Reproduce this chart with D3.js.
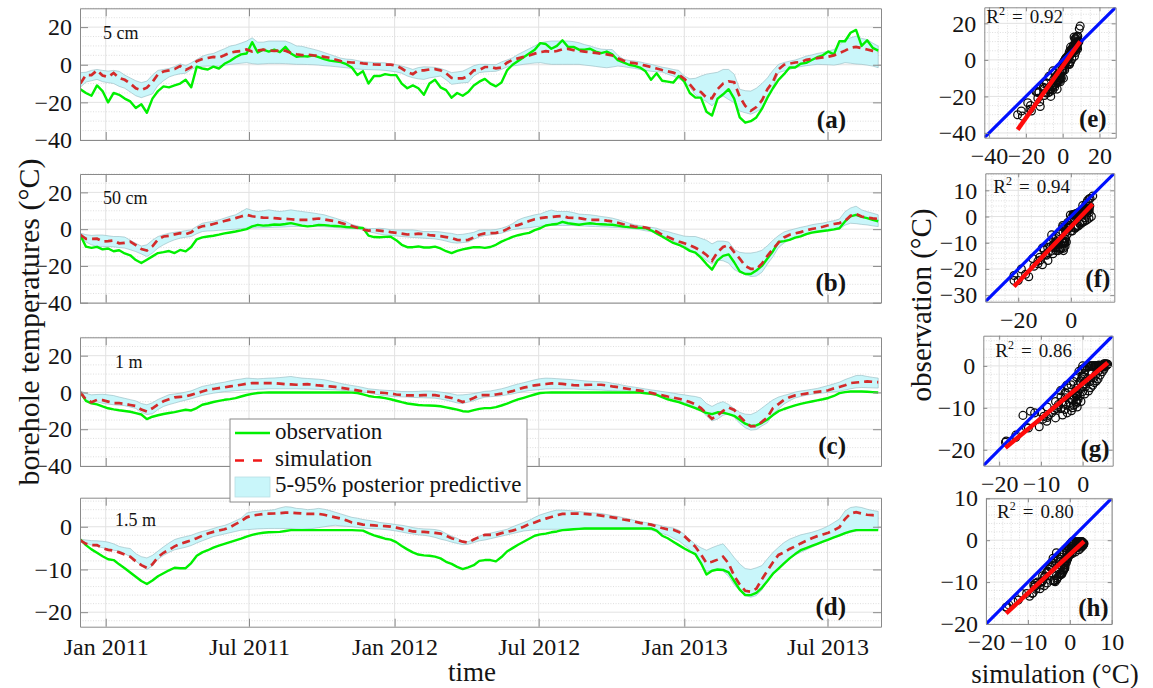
<!DOCTYPE html>
<html>
<head>
<meta charset="utf-8">
<script src="https://cdn.jsdelivr.net/npm/d3@7"></script>
<style>
  body { margin: 0; background: #fff; }
  svg text { font-family: "Liberation Serif", "Times New Roman", serif; fill: #141414; }
</style>
</head>
<body>
<svg id="fig" width="1153" height="688"></svg>
<script>
// ---- borehole temperature records, one value every 7 days from startDate ----
const startDate = "2010-11-30";
const stepDays = 7;
const depthLabels = ["5 cm", "50 cm", "1 m", "1.5 m"];
const panelTags = ["(a)", "(b)", "(c)", "(d)"];
const scatterTags = ["(e)", "(f)", "(g)", "(h)"];
const rSquared = ["0.92", "0.94", "0.86", "0.80"];
const dateTicks = ["2011-01-01", "2011-07-01", "2012-01-01", "2012-07-01", "2013-01-01", "2013-07-01"];
const yTicksShallow = [-40, -20, 0, 20];
const yTicksDeep = [-20, -10, 0];
const legendLabels = ["observation", "simulation", "5-95% posterior predictive"];

// 5 cm
const obs5cm = [-13,-15,-16.5,-11,-14,-20,-15,-16,-18,-19.5,
  -23,-21,-25.5,-18,-14,-11.5,-12,-11,-10,-8,
  -12,-1,-2,-2.5,-1,-2,0.5,2,4,5.5,
  6,12,6.5,8,7,8,6.7,9.5,6,4.2,
  4.6,4.4,5,4,3,2.2,1.8,1.4,0.3,-1.5,
  -5.5,-3.4,-10,-6,-6,-5,-5.5,-5.5,-10,-12.5,
  -11,-12.5,-16,-10,-8,-12,-13.5,-17.5,-15,-16.5,
  -14.5,-11,-9,-7.5,-10,-11.5,-9.5,-3,0,2,
  4,6,8,11.5,11,8.5,10,13,9.5,9.5,
  8,8,8.5,7,6.2,7,5.5,2.4,1.2,0,
  -0.6,-1.5,-3.5,-8,-4.5,-8.5,-9,-9.5,-6,-9,
  -15,-17.5,-17.5,-25,-27,-18,-15.7,-13,-18,-28,
  -30.8,-30,-28,-23.5,-17.5,-12.5,-8,-5,-1.5,-1.5,
  0.5,1,2.5,4,5,7,5.5,12.5,12.5,17,
  18.5,10,13,9,7.5];
const sim5cm = [-10,-5.5,-5.5,-3,-5.7,-6.5,-4.4,-7,-8,-10,
  -12.5,-13.5,-12.2,-9.2,-5,-3.6,-3,-2.3,-0.7,-2.8,
  -1.3,1.9,3,3.6,4.2,3.8,5,6.4,7,7.3,
  8.1,7,7.5,8,7.6,7.3,7.6,7.5,6.3,5.6,
  5.1,5.4,5,4.7,4.2,3.7,2.8,2,1.4,1.2,
  1.1,0.7,0.4,0.2,0.1,0,0.1,-0.5,-2,-3.9,
  -5,-3,-3,-2.5,-2.3,-3,-4.5,-7,-7.3,-7.2,
  -6,-3,-2.8,-1.2,-1.2,-1.9,-1.5,1.1,2.6,3.4,
  4.2,4.9,5.9,6.7,7.2,6.8,7.3,8.2,8.4,7.8,
  7.4,7,6.6,6.3,5.9,5.5,4.9,3.5,2.2,1.2,
  0.9,0.2,-0.5,-1.2,-2,-2.8,-3.5,-4.2,-5.3,-7.5,
  -10.5,-14,-14.5,-17.5,-17.8,-13,-10,-8.8,-9.3,-17,
  -21.9,-24.5,-22.5,-19,-13,-9,-2.5,0,0.6,1.2,
  1.4,2.6,3.1,3.5,3.9,4.3,5,6.2,7.5,9,
  9.5,8.8,8.1,7.4,6.8];
const lo5cm = [-12,-9.2,-8.5,-7.8,-9,-9.5,-10,-11.5,-12.5,-14.5,
  -16.5,-17.5,-16.5,-15.5,-11,-8.5,-6.5,-5.5,-4.8,-4.5,
  -2.5,-1.2,-0.8,-0.7,-0.7,-0.7,-0.3,0.2,0.5,0.8,
  1.1,0.6,0.3,0.5,0.7,0.7,0.7,0.6,0.4,0.2,
  0.2,0.1,0,-0.2,-0.5,-0.7,-1,-1.3,-1.6,-2,
  -2.3,-2.5,-2.6,-2.7,-2.8,-3,-3.4,-3.8,-4.5,-6,
  -6.9,-7.5,-7.8,-7,-6.5,-6,-8,-10.4,-10,-9.6,
  -9.4,-6,-4.2,-3.8,-3.6,-3.5,-2.5,-1.2,-0.7,-0.2,
  0.2,0.6,0.9,1.1,0.6,0.2,0.2,0.2,0.2,0.2,
  0.2,-0.2,-0.5,-0.9,-1.3,-1.6,-1.2,-0.7,-1,-1.5,
  -1.9,-2.5,-3,-3.5,-3.7,-3.9,-5,-6,-7.5,-8.7,
  -12,-16,-18,-19.5,-21.9,-18.4,-16.6,-18.5,-20.2,-24.6,
  -25.5,-26.3,-25,-23,-18,-12,-4.2,-3.3,-2.5,-1.5,
  -1,-0.5,-0.1,0.2,0.1,0,-0.2,0.3,1.1,0.8,
  0.4,0.2,-0.2,-0.7,-1.6];
const hi5cm = [-4.2,-4,-3,-2.5,-3,-3.4,-3,-3.5,-5.5,-7,
  -8.5,-9.5,-8.7,-5.5,-3,-2.5,-2,-1,0.5,-0.5,
  1,2.8,4.5,5.5,6,7.3,8.5,9.9,10.5,11.5,
  12.6,14.3,12,12,12.6,12.6,12.6,12.6,11.5,10,
  9.8,9,8.3,7.5,6.5,5.5,4.5,3.5,3,2.8,
  2.2,1.6,1.4,1.2,1.1,1,0.3,0,-0.7,-1.5,
  -2.5,-1.5,-1.1,-1.2,-1.4,-2,-3,-4.2,-3.8,-3.4,
  -2,-0.5,0.2,0.2,0.1,0,1.5,2.5,3.7,5.5,
  7,8.5,10,11.7,12.2,12.6,12.6,12.6,12.6,12.3,
  11.7,10.7,10,9,8.3,8.1,8.1,5,3,2.3,
  2,1.5,0.8,0.2,-0.5,-1.3,-1.8,-2.5,-3,-6,
  -7.5,-7.2,-6,-5,-4.5,-4,-2.5,-2.5,-5,-13,
  -13.8,-14,-12.5,-10,-7,-3,0.2,1.2,1.9,2.5,
  3.5,4.6,5.2,6,6.5,7.3,8.1,10.5,13.4,14.3,
  15.2,14,13.4,11.5,9.9];

// 50 cm
const obs50cm = [-3.4,-9.5,-10.2,-9.6,-11,-10.5,-12,-11.5,-13.2,-14.2,
  -16.8,-18.4,-16.6,-14.8,-13,-12.5,-11.9,-13,-11.3,-12.1,
  -9.7,-5.5,-4.5,-4,-3.6,-3,-2.3,-1.8,-1.3,-0.7,
  0,1.5,2.3,1.9,2.1,2.5,2.4,2.8,3.3,2.6,
  1.9,1.5,1.8,2.3,2.2,1.9,1.7,1.5,1.2,1,
  0.8,0.6,-3.5,-4.3,-4.4,-4.2,-4.1,-6,-8.5,-9.8,
  -9.8,-9.4,-10,-10,-9.5,-10.5,-12,-13,-11.8,-11,
  -10.4,-9.8,-9.8,-10.2,-9.7,-8.5,-6.8,-5.5,-4.2,-3.3,
  -2.6,-2,-0.5,0.5,2,2.5,2.8,4,3.2,2.8,
  2.4,2.9,3.2,2.9,2.7,2.5,2.4,1.9,1.4,1.1,
  0.9,0.7,0.5,-0.6,-2.3,-4,-5.8,-7.5,-8.5,-10,
  -11.8,-12.8,-15.5,-19,-22,-17,-14.5,-13.7,-18,-23,
  -24.4,-24.4,-22.5,-20,-16,-12,-7,-6.5,-5.8,-4.6,
  -3.9,-2.7,-1.9,-1.4,-1,-0.6,-0.1,0.5,4.2,6.9,
  7.8,6.7,6,5.1,4.3];
const sim50cm = [-3.1,-5.3,-5.3,-5.2,-6.7,-6.5,-6.2,-7.7,-7.5,-6.8,
  -8.7,-10.8,-11.6,-9.3,-5.6,-4,-3.6,-2.8,-2.2,-2.8,
  -1.7,0.5,1.6,2,2.8,3.6,4.4,5.2,6,6.9,
  7.8,7,6.6,6.3,6.2,6,5.7,5.6,5.4,5.1,
  5.1,5.1,5.5,5.8,5.3,4.8,4.3,3.4,2.6,1.7,
  0.8,-0.2,-0.8,-0.5,-0.8,-1.1,-1.6,-2,-2.4,-2.9,
  -2.8,-2.4,-2.7,-3.2,-3.5,-3.8,-4.3,-4.8,-5.8,-6.1,
  -5.8,-4.5,-3,-2.3,-2.2,-2,-1.4,0,1.6,2.2,
  3.3,4.4,5.4,6,6.4,6.6,7,7.2,6.3,6.1,
  6,5.5,5.1,5.1,5.1,4.6,4.2,3.5,2.7,2,
  1.4,1.2,0.9,0.1,-1.2,-3,-4.2,-5.5,-6.7,-7.7,
  -8.8,-10.1,-11.8,-14,-17.2,-12.5,-9.7,-8.6,-12.5,-16,
  -20,-21.6,-21.6,-18.8,-14.5,-10.8,-7.3,-4.5,-3,-2.3,
  -1.6,-0.7,0.1,0.6,1.3,2.1,2.8,3.3,4.5,7.3,
  8.3,6.9,6.3,5.9,5.6];
const lo50cm = [-4,-7,-8.5,-9.4,-9.4,-9.4,-9.6,-10,-10.3,-11.2,
  -12.2,-13.5,-14.9,-13,-10.3,-8.5,-7,-5.8,-4.9,-4.4,
  -4,-2.5,-1.3,-1,-0.9,-0.6,-0.4,-0.2,0,0.3,
  0.5,0.6,0.7,0.8,0.9,1,1.1,1.2,1.4,1.4,
  1.4,1.4,1.4,1.4,1.3,1.1,0.9,0.7,0.5,0.3,
  0.2,-0.5,-1.4,-2,-2.7,-3.2,-3.4,-3.7,-4,-4.3,
  -4.5,-4.7,-4.9,-5.1,-5.3,-5.8,-6.5,-7.3,-7.6,-7.3,
  -7,-5.5,-4.2,-3.5,-3.1,-2.7,-2.2,-1.2,-0.3,0.2,
  0.5,0.8,1.2,1.6,2,2,2,2,2,2,
  1.8,1.7,1.5,1.4,1.3,1.2,1,0.9,0.7,0.5,
  0.2,-0.3,-0.9,-1.3,-2.5,-3.5,-4.5,-6.5,-8,-9,
  -11,-13,-14.5,-17,-19,-16.8,-17.2,-18.5,-22,-23.5,
  -24.5,-25.8,-25.5,-23.5,-19,-15,-10,-7.5,-5.8,-4.8,
  -4,-3.2,-2.2,-1.5,-0.9,-0.6,-0.4,-0.1,2.2,3.2,
  3,2.6,2.3,1.8,1.4];
const hi50cm = [-2.2,-3,-3.4,-3.2,-3.2,-3.6,-4,-4,-4.3,-6,
  -7.7,-9.2,-8.5,-6,-4,-3,-2.2,-1.7,-1.3,-0.8,
  -0.4,1.5,3.2,3.8,4.2,5,6,7,7.8,9.5,
  11.2,10.2,9.6,10,10.5,10,9.6,10,10.5,10,
  9.6,9.2,8.8,8.3,7.8,6.9,6,5,4,2.5,
  1.8,0.8,0.3,0.3,0.5,0.2,-0.3,-0.4,-0.4,-0.4,
  -0.4,-0.8,-1.3,-1.3,-1.3,-1.5,-2,-2.3,-3,-2.8,
  -2.3,-1.7,-0.5,-0.4,-0.4,-0.2,0.5,1.5,3,5,
  6.2,7,7.8,8.3,9.5,10.4,9.6,9.6,9.6,9,
  8.2,8,7.8,7.4,6.9,6.5,6,5.2,4.2,3.3,
  2.4,1.9,1.4,1,0.5,-0.7,-1.3,-2.2,-3,-3.8,
  -4,-4,-5,-6,-8,-6.5,-6.5,-7,-11,-12.6,
  -13,-13,-12.5,-11.5,-9,-6,-3.5,-1.5,-0.6,0.2,
  1,1.6,2.4,2.9,3.3,4,4.6,5.5,9.5,11.5,
  12.5,10.5,9.5,8.7,7.8];

// 1 m
const obs1m = [0,-4.6,-5.9,-6.5,-7.6,-8.6,-9.2,-9.7,-10.1,-10.5,
  -11.2,-12,-14.5,-13.2,-12.4,-11.7,-11.2,-10.7,-10,-9.4,
  -9.8,-8.5,-6.7,-6,-5.2,-4.6,-4,-3.6,-3.1,-2.2,
  -1.4,-0.8,-0.3,-0.1,0,0,0,0,0,0,
  0,0,0,0,0,0,0,0,0,-0.1,
  -0.3,-1,-1.9,-2.4,-2.6,-3.1,-3.7,-4.5,-5.3,-6,
  -6.4,-6.8,-7,-7.1,-7.2,-7.5,-8.1,-8.7,-9.3,-10.2,
  -10.4,-9.6,-8.9,-8.5,-8.5,-8,-7.1,-6.1,-4.9,-3.8,
  -2.9,-2,-1.1,-0.3,-0.1,0,0,0,0,0,
  0,0,0,0,0,0,0,0,0,0,
  0,-0.1,-0.4,-0.8,-1.3,-2.6,-3.7,-4.5,-5.3,-6.4,
  -7.4,-8.5,-9.8,-11.2,-11.8,-10.8,-11,-11.8,-12.7,-14.8,
  -17,-18.2,-17.9,-16.5,-14.7,-12.3,-10.2,-9,-8,-7,
  -6.2,-5.5,-4.9,-4.3,-3.7,-3,-1.9,-0.4,0.2,0.5,
  0.5,0.5,0.4,0.2,0];
const sim1m = [0,-3.8,-5.3,-4,-4.2,-5,-5.8,-5.8,-6.2,-6.8,
  -7.4,-9.3,-10.4,-8.6,-6.5,-4.8,-3.7,-2.7,-2.4,-2.2,
  -1.3,-0.4,0.5,1.4,1.9,2.4,2.8,3.3,3.7,4.2,
  4.7,5.1,5.1,5.1,5.1,5.1,4.8,4.5,4.4,4.2,
  4.4,4.5,4.2,3.8,3.6,3.3,3,2.5,2.1,1.6,
  1.1,0.6,0.4,0.1,-0.1,-0.3,-0.6,-1.1,-1.4,-1.6,
  -1.6,-1.6,-1.5,-1.4,-1.5,-2,-2.4,-3,-4,-5.2,
  -4.2,-3,-1.5,-1.4,-1.5,-1.1,-0.6,0,0.7,1.7,
  2.6,3.2,3.9,4.3,4.6,4.9,4.9,4.7,4.3,4,
  3.9,4.1,4.2,4.2,4.2,3.8,3.3,2.9,2.4,1.9,
  1.4,1,0.5,-0.2,-0.9,-1.5,-2.2,-2.8,-3.4,-4.2,
  -5.2,-6.5,-8.5,-11.5,-14.3,-12.5,-10,-8.2,-9.5,-13,
  -16,-18.5,-18.3,-16,-13.5,-8.5,-6.3,-4,-2.6,-1.6,
  -1.1,-0.6,-0.1,0.3,0.7,1.2,2.2,3,3.9,5.1,
  5.4,5.7,6,5.8,5.6];
const lo1m = [-0.4,-4.5,-5.8,-5.1,-5.9,-6.3,-6.7,-6.9,-7.2,-7.9,
  -8.7,-10.8,-12,-11.6,-9.3,-7.6,-6.6,-5.8,-4.9,-4.2,
  -3.4,-2.5,-1.6,-1,-0.4,0,0.5,0.7,1,1.2,
  1.4,1.5,1.7,1.8,2,2,2,2,2,2,
  1.9,1.9,1.8,1.7,1.6,1.5,1.4,1.2,1,0.8,
  0.5,0.2,-0.2,-0.8,-1.4,-1.8,-2.1,-2.3,-2.4,-2.5,
  -2.7,-2.8,-2.9,-3,-3.1,-3.6,-4.2,-4.9,-5.7,-6,
  -5.2,-4.5,-3.4,-2.6,-2.3,-2.1,-1.8,-1.3,-0.8,-0.1,
  0.5,1,1.3,1.6,1.9,2,2,2,2,2,
  1.8,1.7,1.5,1.4,1.3,1.1,1,0.9,0.8,0.7,
  0.6,0.5,0,-0.5,-1.2,-1.7,-2.5,-3.4,-4.5,-5.6,
  -6.7,-8,-9.5,-12.8,-15.5,-14.5,-12.4,-11.5,-13.5,-16.8,
  -19.2,-20.5,-20.2,-18.2,-16.5,-11.5,-9,-6.3,-4.5,-3,
  -2.2,-1.5,-1,-0.6,-0.3,0.1,0.4,0.7,1.3,2,
  2.5,2.7,2.6,2.5,2.4];
const hi1m = [0.9,-0.5,-1.3,-1.1,-1,-1.3,-1.7,-2.5,-3.2,-3.9,
  -4.6,-6,-6.7,-5.6,-3.8,-2.5,-1.2,-0.8,-0.4,0.2,
  0.9,2.1,3.3,3.9,4.5,5.1,5.6,6.3,6.9,7.3,
  7.8,7.6,7.4,7.6,7.8,7.9,8.1,8.4,8.7,8.2,
  7.8,7.6,7.4,7.2,6.9,6.3,5.6,4.9,4.3,3.8,
  3.3,2.7,2,1.7,1.4,1.2,1,0.8,0.5,0.5,
  0.5,0.6,0.8,0.8,0.6,0.2,-0.2,-0.7,-1.4,-1.3,
  -1,-0.6,0,0.6,0.8,1.4,2,2.8,3.8,4.6,
  5.3,6.1,6.9,7.5,7.8,7.7,7.5,7.3,7.1,6.9,
  6.6,6.3,6.1,6,5.8,5.6,5,4.5,3.9,3.3,
  2.9,2.4,1.9,1.4,1,0.5,0.1,-0.4,-0.9,-1.3,
  -1.8,-2.2,-3,-6,-7.6,-6,-5,-6.5,-8.8,-10.8,
  -11.8,-12,-10.7,-8.5,-6.2,-4,-2.5,-1.6,-0.8,0.2,
  0.8,1.2,1.7,2.2,3,3.8,4.7,5.6,7,8.1,
  9.2,9.3,8.7,8.2,7.8];

// 1.5 m
const obs15m = [-3,-4.3,-5.3,-6.1,-6.9,-7.6,-7.8,-8.8,-9.7,-10.7,
  -11.7,-12.7,-13.4,-12.6,-11.6,-10.9,-10.2,-9.6,-9.7,-9.7,
  -8.5,-6.8,-6,-5.5,-4.9,-4.4,-4,-3.6,-3.2,-2.8,
  -2.3,-1.9,-1.6,-1.4,-1.3,-1.25,-1.2,-1,-0.8,-0.8,
  -0.8,-0.8,-0.8,-0.8,-0.8,-0.8,-0.8,-0.8,-0.8,-0.8,
  -0.85,-0.9,-1.5,-2,-2.4,-2.8,-3,-3.6,-4.5,-5.3,
  -6,-6.5,-6.7,-6.8,-7,-7.4,-8.2,-8.7,-9.4,-9.9,
  -9.5,-9,-8,-7.8,-7.8,-8.1,-7.1,-5.8,-5,-4.2,
  -3.5,-2.8,-2.1,-1.8,-1.6,-1.3,-1.1,-0.8,-0.7,-0.6,
  -0.5,-0.4,-0.4,-0.4,-0.4,-0.4,-0.4,-0.4,-0.4,-0.4,
  -0.4,-0.4,-0.4,-0.4,-0.9,-2.1,-2.7,-3.5,-4.3,-5.1,
  -5.8,-6.4,-8.5,-11.2,-10.3,-10,-10.1,-10.7,-12.7,-14.7,
  -16,-16,-15.5,-14.3,-12.7,-11,-9.8,-8.6,-7.4,-6.4,
  -5.5,-5,-4.5,-4,-3.5,-3,-2.5,-2,-1.5,-1.1,
  -0.8,-0.8,-0.8,-0.8,-0.8];
const sim15m = [-3.2,-4,-4.3,-4.3,-5,-5.4,-5.6,-6,-6.5,-7,
  -8.1,-9,-9.6,-8.8,-7.1,-6.1,-5.4,-4.6,-4,-3.6,
  -3.2,-2.7,-2.1,-1.6,-1.2,-0.9,-0.6,-0.1,0.6,1.3,
  2.2,2.6,2.8,3,3.05,3.1,3.2,3.3,3.3,3.2,
  3.1,3,3,3,2.8,2.5,2.2,1.9,1.5,1,
  0.8,0.5,0.4,0.3,0.2,0.15,0.05,-0.2,-0.5,-0.8,
  -1.1,-1.2,-1.2,-1.3,-1.45,-1.6,-2.1,-2.7,-3.1,-3.5,
  -3.7,-3,-2.4,-1.9,-1.9,-1.9,-1.5,-1.2,-0.9,-0.5,
  0,0.6,1,1.5,1.9,2.3,2.7,3,3.05,3.1,
  3.05,3,2.9,2.8,2.6,2.4,2.2,2,1.7,1.5,
  1.2,0.9,0.7,0.5,0.1,-0.3,-0.6,-0.7,-1.2,-2.2,
  -3.4,-4.7,-6.5,-8.5,-8.2,-7.7,-7,-8.6,-11.5,-13.5,
  -15,-15.2,-14.5,-12.3,-10.3,-8.3,-6.6,-6,-5.2,-4.6,
  -3.9,-3.3,-2.7,-2.2,-1.8,-1.4,-0.8,-0.1,1.8,3.1,
  3.4,3.1,2.8,2.7,2.6];
const lo15m = [-3.4,-3.8,-4.3,-4.6,-4.9,-5.2,-5.5,-5.7,-6.3,-7,
  -8,-9.1,-10,-9.2,-7.6,-6.7,-6,-5.4,-5.1,-4.8,
  -4.4,-3.8,-3.3,-2.8,-2.3,-2,-1.7,-1.4,-1.1,-0.8,
  -0.7,-0.6,-0.5,-0.45,-0.4,-0.4,-0.4,-0.4,-0.4,-0.55,
  -0.6,-0.5,-0.4,-0.2,0,0.2,0.35,0.2,0.1,0,
  -0.15,-0.3,-0.4,-0.5,-0.55,-0.65,-0.8,-1,-1.25,-1.5,
  -1.7,-1.9,-2,-2.2,-2.5,-2.9,-3.2,-3.6,-3.9,-4.2,
  -4.1,-3.7,-3.3,-3.1,-2.8,-2.5,-2.2,-1.9,-1.6,-1.3,
  -1,-0.85,-0.7,-0.6,-0.6,-0.6,-0.6,-0.6,-0.6,-0.6,
  -0.6,-0.6,-0.6,-0.6,-0.6,-0.6,-0.6,-0.6,-0.6,-0.6,
  -0.6,-0.6,-0.6,-0.75,-1.2,-1.6,-2,-2.7,-3.3,-4.3,
  -5.4,-6.8,-8.8,-10.4,-10.3,-10.2,-10.4,-11.6,-13.6,-15,
  -16.1,-16.5,-16.1,-14.8,-12.7,-11.2,-10.1,-8.6,-7.5,-6.6,
  -6,-5.4,-4.8,-4.2,-3.6,-3.1,-2.6,-2.2,-1.7,-1.3,
  -1,-0.75,-0.65,-0.6,-0.6];
const hi15m = [-2.9,-3.1,-3.25,-3.3,-3.4,-3.6,-4,-4.6,-4.9,-5.1,
  -6.3,-7,-7.3,-6.7,-5.7,-4.7,-3.8,-3,-2.6,-2.3,
  -2,-1.5,-1.1,-0.8,-0.4,0,0.3,0.8,1.4,2,
  3.2,3.5,3.6,3.75,3.85,4,4.4,4.7,4.6,4.3,
  4.2,4,4.1,4.3,4.1,3.8,3.4,3,2.6,2.2,
  2,1.7,1.5,1.3,1,0.85,0.7,0.5,0.35,0.1,
  -0.2,-0.4,-0.5,-0.55,-0.65,-0.9,-1.6,-2.2,-2.7,-3.4,
  -3.5,-2.9,-2.2,-1.8,-1.5,-1.2,-0.9,-0.6,0,0.5,
  1,1.5,2.2,2.8,3.2,3.6,3.9,3.9,3.8,3.7,
  3.55,3.4,3.3,3.2,3.1,2.85,2.6,2.4,2.1,1.8,
  1.5,1.2,1,0.75,0.5,0.2,-0.1,-0.3,-0.8,-1.8,
  -3,-4.1,-4.9,-5.5,-4.9,-4.4,-4,-5.5,-7.2,-8.7,
  -9.8,-10,-9.6,-9.1,-7.5,-6,-4.8,-3.7,-2.9,-2.4,
  -1.9,-1.6,-1.3,-0.9,-0.4,0.2,1,1.8,3.7,4.5,
  4.7,4.5,4.1,3.8,3.6];

const depthSeries = [
  { obs: obs5cm, sim: sim5cm, lo: lo5cm, hi: hi5cm },
  { obs: obs50cm, sim: sim50cm, lo: lo50cm, hi: hi50cm },
  { obs: obs1m, sim: sim1m, lo: lo1m, hi: hi1m },
  { obs: obs15m, sim: sim15m, lo: lo15m, hi: hi15m }
];

// ---- layout and styling ----
const SERIF = "'Liberation Serif', 'Times New Roman', serif";
const TICK_FONT = 24;
const FRAME = "#8a8a8a";
const GRID = "#e2e2e2";
const MINOR = "#d0d0d0";
const GREEN = "#00f000";
const RED = "#d32b2b";
const BAND = "#c9f6fa";
const BAND_EDGE = "#93b9c0";

const leftX = [80, 881];
const timeDomain = ["2010-11-29T12:00:00Z", "2013-09-06T12:00:00Z"];
const leftFrames = [
  { top: 8.3, bottom: 140, yDomain: [-40, 30], ticks: yTicksShallow, minorStep: 5, labelX: 103, labelY: 39 },
  { top: 174, bottom: 302.7, yDomain: [-40, 30], ticks: yTicksShallow, minorStep: 5, labelX: 103, labelY: 204 },
  { top: 337.3, bottom: 466, yDomain: [-40, 30], ticks: yTicksShallow, minorStep: 5, labelX: 115, labelY: 367.5 },
  { top: 497.7, bottom: 626.7, yDomain: [-23.4, 6.8], ticks: yTicksDeep, minorStep: 2, labelX: 115, labelY: 526 }
];
const scatterFrames = [
  { x0: 984.3, x1: 1115.7, y0: 7.3, y1: 137.7, domain: [-42.6, 28.8], xTicks: [-40, -20, 0, 20], yTicks: [-40, -20, 0, 20], minorX: 5, minorY: 5, rx: 2, ry: 16, tagDx: 9, tagDy: 11 },
  { x0: 985.3, x1: 1114.3, y0: 173.3, y1: 301.7, domain: [-32.5, 16.5], xTicks: [-20, 0], yTicks: [-30, -20, -10, 0, 10], minorX: 5, minorY: 2, rx: 8, ry: 20, tagDx: 4, tagDy: 15 },
  { x0: 983.3, x1: 1112.7, y0: 335.7, y1: 465.7, domain: [-23.8, 7.2], xTicks: [-20, -10, 0], yTicks: [-20, -10, 0], minorX: 2, minorY: 2, rx: 12, ry: 21, tagDx: 3, tagDy: 9 },
  { x0: 986, x1: 1111.7, y0: 498.3, y1: 624, domain: [-20, 10], xTicks: [-20, -10, 0, 10], yTicks: [-20, -10, 0, 10], minorX: 2, minorY: 2, rx: 11, ry: 20, tagDx: 3, tagDy: 8 }
];

const svg = d3.select("#fig");
const t0 = d3.utcParse("%Y-%m-%d")(startDate);
const dates = d3.range(obs5cm.length).map(i => d3.utcDay.offset(t0, i * stepDays));
const x = d3.scaleUtc().domain(timeDomain.map(s => new Date(s))).range(leftX);
const tickDates = dateTicks.map(s => new Date(s + "T00:00:00Z"));

function minorValues(domain, step, majors) {
  const out = [];
  const start = Math.ceil(domain[0] / step) * step;
  for (let v = start; v <= domain[1] + 1e-9; v += step) {
    const r = Math.round(v * 1000) / 1000;
    if (!majors.some(m => Math.abs(m - r) < 1e-6)) out.push(r);
  }
  return out;
}

function drawGrid(g, xs, ys, xMajor, yMajor, xMinor, yMinor) {
  const [x0, x1] = xs.range();
  const [yb, yt] = ys.range();
  const gg = g.append("g").attr("class", "grid");
  gg.selectAll("line.ymin").data(yMinor).join("line").attr("class", "ymin")
    .attr("x1", x0).attr("x2", x1).attr("y1", d => ys(d)).attr("y2", d => ys(d))
    .attr("stroke", MINOR).attr("stroke-width", 0.7).attr("stroke-dasharray", "1,1.6");
  gg.selectAll("line.xmin").data(xMinor).join("line").attr("class", "xmin")
    .attr("y1", yt).attr("y2", yb).attr("x1", d => xs(d)).attr("x2", d => xs(d))
    .attr("stroke", MINOR).attr("stroke-width", 0.7).attr("stroke-dasharray", "1,1.6");
  gg.selectAll("line.ymaj").data(yMajor).join("line").attr("class", "ymaj")
    .attr("x1", x0).attr("x2", x1).attr("y1", d => ys(d)).attr("y2", d => ys(d))
    .attr("stroke", GRID).attr("stroke-width", 1);
  gg.selectAll("line.xmaj").data(xMajor).join("line").attr("class", "xmaj")
    .attr("y1", yt).attr("y2", yb).attr("x1", d => xs(d)).attr("x2", d => xs(d))
    .attr("stroke", GRID).attr("stroke-width", 1);
}

function styleAxis(a) {
  a.attr("font-family", SERIF).attr("font-size", TICK_FONT);
  a.select(".domain").attr("stroke", FRAME).attr("stroke-width", 1);
  a.selectAll(".tick line").attr("stroke", FRAME).attr("stroke-width", 1);
  a.selectAll(".tick text").attr("fill", "#141414")
    .style("font-family", SERIF).style("font-size", TICK_FONT + "px");
}

function drawFrame(g, xs, ys, xTicks, yTicks, tickLen, xFormat, yFormat, xPad) {
  const [x0, x1] = xs.range();
  const [yb, yt] = ys.range();
  g.append("g").attr("transform", `translate(${x0},0)`)
    .call(d3.axisLeft(ys).tickValues(yTicks).tickSizeInner(-tickLen).tickSizeOuter(0).tickPadding(8).tickFormat(yFormat))
    .call(styleAxis);
  g.append("g").attr("transform", `translate(${x1},0)`)
    .call(d3.axisRight(ys).tickValues(yTicks).tickSizeInner(-tickLen).tickSizeOuter(0).tickFormat(""))
    .call(styleAxis);
  g.append("g").attr("transform", `translate(0,${yt})`)
    .call(d3.axisTop(xs).tickValues(xTicks).tickSizeInner(-tickLen).tickSizeOuter(0).tickFormat(""))
    .call(styleAxis);
  g.append("g").attr("transform", `translate(0,${yb})`)
    .call(d3.axisBottom(xs).tickValues(xTicks).tickSizeInner(-tickLen).tickSizeOuter(0).tickPadding(xPad).tickFormat(xFormat))
    .call(styleAxis);
}

// ---- time-series panels (a)-(d) ----
const fmtDate = d3.utcFormat("%b %Y");
leftFrames.forEach((f, k) => {
  const s = depthSeries[k];
  const y = d3.scaleLinear().domain(f.yDomain).range([f.bottom, f.top]);
  const g = svg.append("g");
  drawGrid(g, x, y, tickDates, f.ticks, [], minorValues(f.yDomain, f.minorStep, f.ticks));

  const clipId = "clip-left-" + k;
  svg.append("clipPath").attr("id", clipId).append("rect")
    .attr("x", leftX[0]).attr("y", f.top).attr("width", leftX[1] - leftX[0]).attr("height", f.bottom - f.top);
  const plot = g.append("g").attr("clip-path", `url(#${clipId})`);

  const idx = d3.range(dates.length);
  plot.append("path").datum(idx)
    .attr("d", d3.area().x(i => x(dates[i])).y0(i => y(s.lo[i])).y1(i => y(s.hi[i])))
    .attr("fill", BAND).attr("stroke", BAND_EDGE).attr("stroke-width", 0.6);
  plot.append("path").datum(idx)
    .attr("d", d3.line().x(i => x(dates[i])).y(i => y(s.obs[i])))
    .attr("fill", "none").attr("stroke", GREEN).attr("stroke-width", 2.4).attr("stroke-linejoin", "round");
  plot.append("path").datum(idx)
    .attr("d", d3.line().x(i => x(dates[i])).y(i => y(s.sim[i])))
    .attr("fill", "none").attr("stroke", RED).attr("stroke-width", 2.7).attr("stroke-dasharray", "8,5");

  drawFrame(g, x, y, tickDates, f.ticks, 8, k === 3 ? fmtDate : () => "", d3.format("d"), 11);

  g.append("text").attr("x", f.labelX).attr("y", f.labelY).attr("font-size", 18).text(depthLabels[k]);
  g.append("text").attr("x", 846).attr("y", f.bottom - 12).attr("text-anchor", "end")
    .attr("font-size", 25).attr("font-weight", "bold").text(panelTags[k]);
});

// ---- scatter panels (e)-(h): observation against simulation ----
scatterFrames.forEach((f, k) => {
  const s = depthSeries[k];
  const xs = d3.scaleLinear().domain(f.domain).range([f.x0, f.x1]);
  const ys = d3.scaleLinear().domain(f.domain).range([f.y1, f.y0]);
  const g = svg.append("g");
  drawGrid(g, xs, ys, f.xTicks, f.yTicks,
    minorValues(f.domain, f.minorX, f.xTicks), minorValues(f.domain, f.minorY, f.yTicks));

  const clipId = "clip-sc-" + k;
  svg.append("clipPath").attr("id", clipId).append("rect")
    .attr("x", f.x0).attr("y", f.y0).attr("width", f.x1 - f.x0).attr("height", f.y1 - f.y0);
  const plot = g.append("g").attr("clip-path", `url(#${clipId})`);

  const pts = d3.range(s.obs.length).map(i => [s.sim[i], s.obs[i]]);
  plot.selectAll("circle").data(pts).join("circle")
    .attr("cx", d => xs(d[0])).attr("cy", d => ys(d[1])).attr("r", 3.9)
    .attr("fill", "none").attr("stroke", "#0c0c0c").attr("stroke-width", 1.25);

  // 1:1 line
  plot.append("line")
    .attr("x1", xs(f.domain[0])).attr("y1", ys(f.domain[0]))
    .attr("x2", xs(f.domain[1])).attr("y2", ys(f.domain[1]))
    .attr("stroke", "#0010ff").attr("stroke-width", 3.2);

  // least-squares fit of observation on simulation
  const mx = d3.mean(pts, d => d[0]), my = d3.mean(pts, d => d[1]);
  const sxy = d3.sum(pts, d => (d[0] - mx) * (d[1] - my));
  const sxx = d3.sum(pts, d => (d[0] - mx) ** 2);
  const slope = sxy / sxx, icpt = my - slope * mx;
  const [xmin, xmax] = d3.extent(pts, d => d[0]);
  plot.append("line")
    .attr("x1", xs(xmin)).attr("y1", ys(icpt + slope * xmin))
    .attr("x2", xs(xmax)).attr("y2", ys(icpt + slope * xmax))
    .attr("stroke", "#ff0a0a").attr("stroke-width", 4.4);

  drawFrame(g, xs, ys, f.xTicks, f.yTicks, 4, d3.format("d"), d3.format("d"), 9);

  const r2 = g.append("text").attr("x", f.x0 + f.rx).attr("y", f.y0 + f.ry).attr("font-size", 19);
  r2.append("tspan").text("R");
  r2.append("tspan").attr("font-size", 12).attr("dy", -8).text("2");
  r2.append("tspan").attr("dy", 8).attr("dx", 7).text("=");
  r2.append("tspan").attr("dx", 7).text(rSquared[k]);

  g.append("text").attr("x", f.x1 - f.tagDx).attr("y", f.y1 - f.tagDy).attr("text-anchor", "end")
    .attr("font-size", 25).attr("font-weight", "bold").text(scatterTags[k]);
});

// ---- axis titles ----
svg.append("text").attr("transform", "translate(28,322) rotate(-90)")
  .attr("text-anchor", "middle").attr("dominant-baseline", "central").attr("font-size", 30)
  .text("borehole temperatures (°C)");
svg.append("text").attr("transform", "translate(921,305) rotate(-90)")
  .attr("text-anchor", "middle").attr("dominant-baseline", "central").attr("font-size", 29)
  .text("observation (°C)");
svg.append("text").attr("x", 472).attr("y", 681).attr("text-anchor", "middle").attr("font-size", 27).text("time");
svg.append("text").attr("x", 1055).attr("y", 683).attr("text-anchor", "middle").attr("font-size", 27).text("simulation (°C)");

// ---- legend ----
const lg = svg.append("g");
lg.append("rect").attr("x", 230).attr("y", 419).attr("width", 297).attr("height", 83)
  .attr("fill", "#fff").attr("stroke", FRAME).attr("stroke-width", 1);
lg.append("line").attr("x1", 235).attr("x2", 270).attr("y1", 433).attr("y2", 433)
  .attr("stroke", GREEN).attr("stroke-width", 2.4);
lg.append("line").attr("x1", 235).attr("x2", 270).attr("y1", 460.5).attr("y2", 460.5)
  .attr("stroke", "#f01818").attr("stroke-width", 2.6).attr("stroke-dasharray", "9,9");
lg.append("rect").attr("x", 235).attr("y", 477).attr("width", 35).attr("height", 20)
  .attr("fill", BAND).attr("stroke", "#b8dfe4").attr("stroke-width", 0.8);
[439, 465.5, 491.5].forEach((yy, i) => {
  lg.append("text").attr("x", 275).attr("y", yy).attr("font-size", 23).text(legendLabels[i]);
});
</script>
</body>
</html>
